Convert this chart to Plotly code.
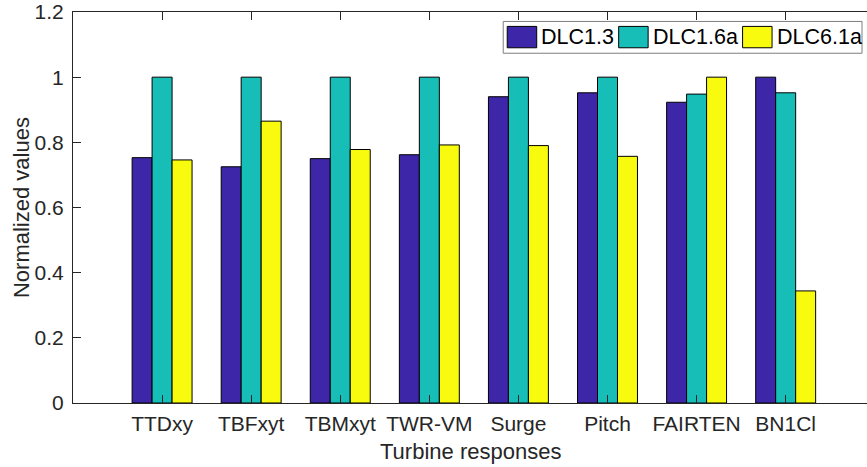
import plotly.graph_objects as go

# Normalized turbine responses for three design load cases
categories = ["TTDxy", "TBFxyt", "TBMxyt", "TWR-VM", "Surge", "Pitch", "FAIRTEN", "BN1Cl"]
dlc13 = [0.753, 0.725, 0.750, 0.762, 0.940, 0.952, 0.923, 1.000]
dlc16a = [1.000, 1.000, 1.000, 1.000, 1.000, 1.000, 0.948, 0.952]
dlc61a = [0.746, 0.865, 0.778, 0.792, 0.790, 0.757, 1.000, 0.344]
series_names = ["DLC1.3", "DLC1.6a", "DLC6.1a"]
series_colors = ["#3E26A8", "#17BEB8", "#F9FB0E"]
y_ticks = [0, 0.2, 0.4, 0.6, 0.8, 1.0, 1.2]
y_tick_text = ["0", "0.2", "0.4", "0.6", "0.8", "1", "1.2"]

FONT = "Liberation Sans, Arial, sans-serif"
TXT = "#262626"

positions = list(range(1, len(categories) + 1))

fig = go.Figure()
for name, vals, col in zip(series_names, [dlc13, dlc16a, dlc61a], series_colors):
    fig.add_trace(go.Bar(
        x=positions, y=vals, name=name,
        marker=dict(color=col, line=dict(color="#000000", width=1)),
        showlegend=False,
    ))

# plot-area geometry in pixels
W, H = 867, 467
ML, MR, MT, MB = 72.5, 0, 9.5, 64
pw, ph = W - ML - MR, H - MT - MB


def px_x(x):
    return (x - ML) / pw


def px_y(y):
    return (H - MB - y) / ph


fig.update_layout(
    width=W, height=H,
    margin=dict(l=ML, r=MR, t=MT, b=MB, pad=0),
    paper_bgcolor="white", plot_bgcolor="white",
    barmode="group", bargap=0.327, bargroupgap=0,
    font=dict(family=FONT, size=21, color=TXT),
)

fig.update_xaxes(
    range=[0, 8.913],
    tickmode="array", tickvals=positions, ticktext=categories,
    ticks="inside", ticklen=8, tickwidth=1, tickcolor=TXT,
    showline=True, linecolor=TXT, linewidth=1, mirror="ticks",
    showgrid=False, zeroline=False,
    tickfont=dict(size=21, color=TXT),
    ticklabelstandoff=2,
    ticklabeloverflow="allow",
)
fig.update_yaxes(
    range=[0, 1.2],
    tickmode="array", tickvals=y_ticks, ticktext=y_tick_text,
    ticks="inside", ticklen=8, tickwidth=1, tickcolor=TXT,
    showline=True, linecolor=TXT, linewidth=1, mirror=False,
    showgrid=False, zeroline=False,
    tickfont=dict(size=21, color=TXT),
    ticklabelstandoff=4,
    ticklabeloverflow="allow",
)

# axis titles
fig.add_annotation(text="Turbine responses", xref="paper", yref="paper",
                   x=0.5, y=px_y(452), xanchor="center", yanchor="middle",
                   showarrow=False, font=dict(size=22, color=TXT))
fig.add_annotation(text="Normalized values", xref="paper", yref="paper",
                   x=px_x(21), y=0.5, xanchor="center", yanchor="middle",
                   textangle=-90, showarrow=False, font=dict(size=22, color=TXT))

# legend box with large swatches
fig.add_shape(type="rect", xref="paper", yref="paper",
              x0=px_x(503), x1=px_x(862), y0=px_y(51), y1=px_y(19),
              line=dict(color="#7F7F7F", width=1), fillcolor="white", layer="above")
swatch_left = [507, 618.5, 742.5]
for name, col, sx in zip(series_names, series_colors, swatch_left):
    fig.add_shape(type="rect", xref="paper", yref="paper",
                  x0=px_x(sx), x1=px_x(sx + 29.5), y0=px_y(45.5), y1=px_y(24),
                  line=dict(color="#000000", width=1), fillcolor=col, layer="above")
    fig.add_annotation(text=name, xref="paper", yref="paper",
                       x=px_x(sx + 32), y=px_y(35), xanchor="left", yanchor="middle",
                       showarrow=False, font=dict(size=21.5, color="#000000"))

fig.write_html("out.html")
